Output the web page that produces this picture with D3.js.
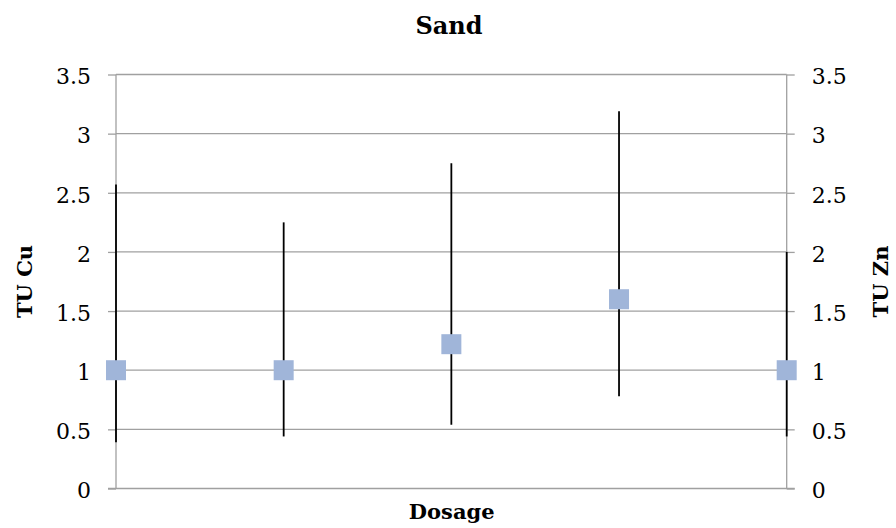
<!DOCTYPE html>
<html>
<head>
<meta charset="utf-8">
<script src="https://cdn.jsdelivr.net/npm/d3@7"></script>
<style>
  body { margin: 0; background: #fff; }
  svg { display: block; }
  text { font-family: "DejaVu Serif", "Liberation Serif", serif; fill: #000; }
</style>
</head>
<body>
<svg id="chart" width="896" height="528"></svg>
<script>
// Data
const categories = ["1", "2", "3", "4", "5"];
const values = [1.0, 1.0, 1.22, 1.6, 1.0];
const errLow = [0.39, 0.44, 0.54, 0.78, 0.44];
const errHigh = [2.57, 2.25, 2.75, 3.19, 2.0];
const yTicks = [0, 0.5, 1, 1.5, 2, 2.5, 3, 3.5];
const yTickLabels = ["0", "0.5", "1", "1.5", "2", "2.5", "3", "3.5"];

const svg = d3.select("#chart");
const W = 896, H = 528;
const margin = { left: 116, right: W - 786.7, top: 74.5, bottom: H - 488.5 };

const x = d3.scalePoint().domain(categories).range([margin.left, W - margin.right]);
const y = d3.scaleLinear().domain([0, 3.5]).range([H - margin.bottom, margin.top]);
const gridColor = "#a0a0a0";

// gridlines
svg.append("g").selectAll("line").data(yTicks.filter(d => d > 0)).join("line")
  .attr("x1", margin.left).attr("x2", W - margin.right)
  .attr("y1", d => y(d)).attr("y2", d => y(d))
  .attr("stroke", gridColor).attr("stroke-width", 1.3);

function styleAxis(g) {
  g.select(".domain").remove();
  g.selectAll(".tick line").attr("stroke", gridColor).attr("stroke-width", 1.3);
  g.selectAll(".tick text").attr("font-size", 22).attr("font-family", "DejaVu Serif").attr("dy", "0.42em").attr("fill", "#000");
  g.append("line").attr("x1", 0).attr("x2", 0).attr("y1", y(0)).attr("y2", y(3.5))
    .attr("stroke", gridColor).attr("stroke-width", 1.3);
}

// left axis
const gl = svg.append("g").attr("transform", `translate(${margin.left},0)`)
  .call(d3.axisLeft(y).tickValues(yTicks).tickFormat((d, i) => yTickLabels[i]).tickSize(8).tickPadding(17));
styleAxis(gl);

// right axis
const gr = svg.append("g").attr("transform", `translate(${W - margin.right},0)`)
  .call(d3.axisRight(y).tickValues(yTicks).tickFormat((d, i) => yTickLabels[i]).tickSize(8).tickPadding(17));
styleAxis(gr);

// bottom axis line
svg.append("line").attr("x1", margin.left - 8).attr("x2", W - margin.right + 8)
  .attr("y1", y(0)).attr("y2", y(0)).attr("stroke", gridColor).attr("stroke-width", 1.3);

// error bars
svg.append("g").selectAll("line").data(categories).join("line")
  .attr("x1", d => x(d)).attr("x2", d => x(d))
  .attr("y1", (d, i) => y(errLow[i])).attr("y2", (d, i) => y(errHigh[i]))
  .attr("stroke", "#000").attr("stroke-width", 1.8);

// markers
const ms = 20;
svg.append("g").selectAll("rect").data(categories).join("rect")
  .attr("x", d => x(d) - ms / 2).attr("y", (d, i) => y(values[i]) - ms / 2)
  .attr("width", ms).attr("height", ms)
  .attr("fill", "#a0b5d9");

// title
svg.append("text").attr("x", 449).attr("y", 34).attr("text-anchor", "middle")
  .attr("font-size", 24).attr("font-weight", "bold").text("Sand");

// x axis title
svg.append("text").attr("x", 451.7).attr("y", 519).attr("text-anchor", "middle")
  .attr("font-size", 21).attr("font-weight", "bold").text("Dosage");

// y axis titles
const midY = (y(0) + y(3.5)) / 2;
svg.append("text").attr("transform", `translate(32,${midY}) rotate(-90)`)
  .attr("text-anchor", "middle").attr("font-size", 21).attr("font-weight", "bold").text("TU Cu");
svg.append("text").attr("transform", `translate(888,${midY}) rotate(-90)`)
  .attr("text-anchor", "middle").attr("font-size", 21).attr("font-weight", "bold").text("TU Zn");
</script>
</body>
</html>
